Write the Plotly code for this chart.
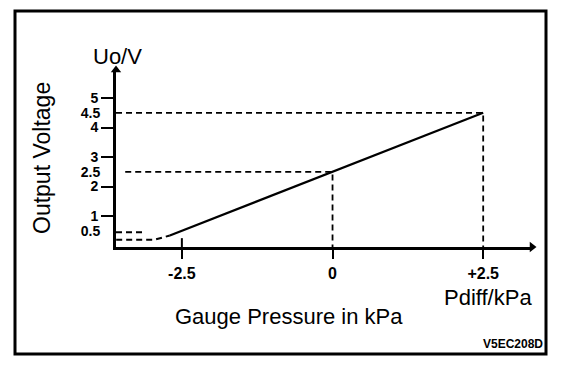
import plotly.graph_objects as go

# ---- data ----
pressure_kpa = [-2.7, 2.5]          # linear characteristic (solid)
voltage_v = [0.34, 4.5]
low_x = [-3.59, -2.95, -2.7]        # dashed low-end saturation
low_y = [0.2, 0.2, 0.34]
x_tick_vals = [-2.5, 0, 2.5]
x_tick_text = ["-2.5", "0", "+2.5"]
y_tick_vals = [1, 2, 3, 4, 5]
y_tick_text = ["1", "2", "3", "4", "5"]
y_extra_vals = [0.5, 2.5, 4.5]
y_extra_text = ["0.5", "2.5", "4.5"]

X0, X1 = -3.593, 3.31
Y0, Y1 = -0.05, 5.95

FONT = "Liberation Sans, Arial, Helvetica, sans-serif"
dash = "6px,4px"
blk = "black"

fig = go.Figure()

# reference dashed lines
fig.add_trace(go.Scatter(x=[X0, 2.5, 2.5], y=[4.5, 4.5, -0.42], mode="lines", cliponaxis=False,
                         line=dict(color=blk, width=1.8, dash=dash), hoverinfo="skip"))
fig.add_trace(go.Scatter(x=[-3.44, 0, 0], y=[2.5, 2.5, -0.42], mode="lines", cliponaxis=False,
                         line=dict(color=blk, width=1.8, dash=dash), hoverinfo="skip"))
fig.add_trace(go.Scatter(x=[X0, -3.1], y=[0.45, 0.45], mode="lines",
                         line=dict(color=blk, width=1.8, dash=dash), hoverinfo="skip"))
fig.add_trace(go.Scatter(x=low_x, y=low_y, mode="lines",
                         line=dict(color=blk, width=2, dash=dash), hoverinfo="skip"))
# characteristic
fig.add_trace(go.Scatter(x=pressure_kpa, y=voltage_v, mode="lines",
                         line=dict(color=blk, width=2.2), hoverinfo="skip"))
# upper part of crossing tick at -2.5
fig.add_trace(go.Scatter(x=[x_tick_vals[0], x_tick_vals[0]], y=[Y0, 0.25], mode="lines",
                         line=dict(color=blk, width=2), hoverinfo="skip"))
# axis arrowheads
fig.add_trace(go.Scatter(x=[X1], y=[Y0], mode="markers", cliponaxis=False,
                         marker=dict(symbol="triangle-right", size=9, color=blk), hoverinfo="skip"))
fig.add_trace(go.Scatter(x=[X0], y=[Y1], mode="markers", cliponaxis=False,
                         marker=dict(symbol="triangle-up", size=9, color=blk), hoverinfo="skip"))
# invisible trace for second y axis
fig.add_trace(go.Scatter(x=[X0], y=[Y0], yaxis="y2", mode="markers",
                         marker=dict(opacity=0), hoverinfo="skip"))

# page body has an 8px margin: figure is drawn at screen (8, 8)
fig.update_layout(
    width=568, height=370,
    margin=dict(l=108, r=44, t=62, b=131, autoexpand=False),
    paper_bgcolor="white", plot_bgcolor="white",
    showlegend=False,
    font=dict(family=FONT, color=blk),
    xaxis=dict(range=[X0, X1], showgrid=False, zeroline=False,
               showline=True, linewidth=3, linecolor=blk,
               tickvals=x_tick_vals, ticktext=x_tick_text,
               ticks="outside", ticklen=9, tickwidth=2, tickcolor=blk,
               ticklabelstandoff=1,
               tickfont=dict(family=FONT, size=16, color=blk, weight="bold")),
    yaxis=dict(range=[Y0, Y1], showgrid=False, zeroline=False,
               showline=True, linewidth=3, linecolor=blk,
               tickvals=y_tick_vals, ticktext=y_tick_text,
               ticks="outside", ticklen=12, tickwidth=2, tickcolor=blk,
               tickfont=dict(family=FONT, size=14, color=blk, weight="bold")),
    yaxis2=dict(range=[Y0, Y1], overlaying="y", side="left", anchor="x",
                showgrid=False, zeroline=False, showline=False,
                tickvals=y_extra_vals, ticktext=y_extra_text,
                ticks="outside", ticklen=12, tickcolor="rgba(0,0,0,0)",
                tickfont=dict(family=FONT, size=14, color=blk, weight="bold")),
)

# screen-pixel -> paper helpers (plot area on screen: x 116..532, y 70..247)
def px(xp):
    return (xp - 116) / 416.0

def py(yp):
    return (247 - yp) / 177.0

fig.add_shape(type="rect", xref="paper", yref="paper",
              x0=px(15), x1=px(546), y0=py(354), y1=py(11),
              line=dict(color=blk, width=3))

ann = [
    ("Uo/V", 117, 56, 22, 0),
    ("Output Voltage", 42, 158, 23, -90),
    ("Gauge Pressure in kPa", 289, 316, 22, 0),
    ("Pdiff/kPa", 488, 297, 22, 0),
]
for text, x, y, size, ang in ann:
    fig.add_annotation(text=text, xref="paper", yref="paper", x=px(x), y=py(y),
                       xanchor="center", yanchor="middle", showarrow=False, textangle=ang,
                       font=dict(family=FONT, size=size, color=blk))
fig.add_annotation(text="V5EC208D", xref="paper", yref="paper", x=px(545), y=py(344),
                   xanchor="right", yanchor="middle", showarrow=False,
                   font=dict(family=FONT, size=12, color=blk, weight="bold"))

fig.write_html("out.html")
